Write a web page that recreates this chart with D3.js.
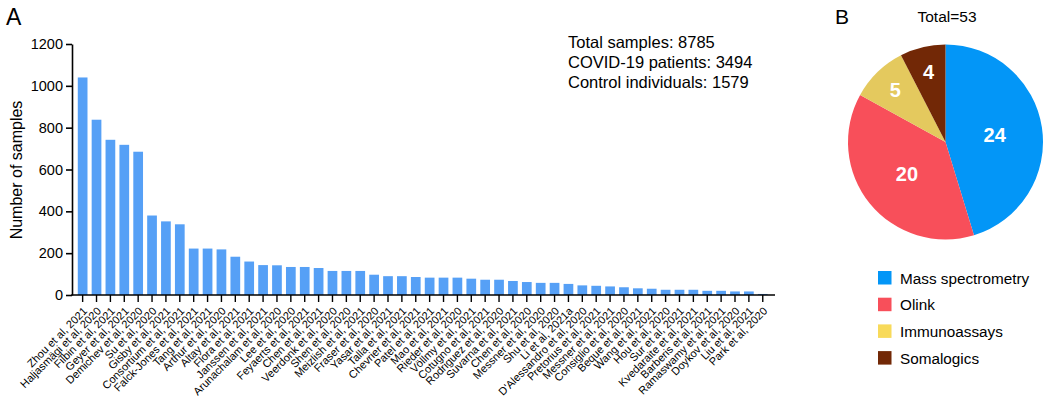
<!DOCTYPE html>
<html><head><meta charset="utf-8">
<script src="https://cdn.jsdelivr.net/npm/d3@7"></script>
<style>
html,body{margin:0;padding:0;background:#fff;}
text{font-family:"Liberation Sans",Arial,Helvetica,sans-serif;fill:#000;}
</style></head>
<body>
<svg id="chart" width="1050" height="404"></svg>
<script>
const studies = ["Zhou et al, 2021","Haljasmägi et al, 2020","Filbin et al, 2021","Geyer et al, 2021","Demichev et al, 2020","Su et al, 2020","Gisby et al, 2021","Consortium et al, 2021","Falck-Jones et al, 2021","Tang et al, 2021","Arthur et al, 2020","Altay et al, 2021","Flora et al, 2021","Janssen et al, 2021","Arunachalam et al, 2020","Lee et al, 2020","Feyaerts et al, 2021","Chen et al, 2021","Veerdonk et al, 2020","Shen et al, 2020","Meizlish et al, 2021","Fraser et al, 2020","Yasar et al, 2021","Talla et al, 2021","Chevrier et al, 2021","Patel et al, 2021","Mao et al, 2021","Rieder et al, 2020","Völlmy et al, 2021","Cotugno et al, 2021","Rodriguez et al, 2020","Suvarna et al, 2021","Chen et al, 2020","Messner et al, 2020","Shu et al, 2020","Li et al, 2021a","D'Alessandro et al, 2020","Pretorius et al, 2021","Messner et al, 2021","Consiglio et al, 2020","Beque et al, 2021","Wang et al, 2021","Hou et al, 2020","Sur et al, 2021","Kvedaraite et al, 2021","Barberis et al, 2021","Ramaswamy et al, 2021","Doykov et al, 2020","Liu et al, 2021","Park et al, 2020"];
const samples = [1040,838,742,718,685,380,352,338,222,222,218,183,160,143,142,134,134,129,115,115,115,97,90,90,86,83,83,83,78,73,73,67,62,58,58,53,46,44,41,37,32,30,25,25,25,20,20,17,17,5];
const yTicks = [0,200,400,600,800,1000,1200];
const statsLines = ["Total samples: 8785","COVID-19 patients: 3494","Control individuals: 1579"];

const platforms = ["Mass spectrometry","Olink","Immunoassays","Somalogics"];
const platformCounts = [24,20,5,4];
const pieColors = ["#0396F7","#F84F5A","#E4C95E","#722806"];
const legendColors = ["#0396F7","#F84F5A","#F8DA5A","#722806"];
const pieTitle = "Total=53";

const svg = d3.select("#chart");

// ---- Panel A ----
const x = d3.scaleBand().domain(studies).range([75.7, 769.7]).paddingInner(0.3).paddingOuter(0.15);
const y = d3.scaleLinear().domain([0,1200]).range([295,44]);

svg.append("text").attr("x",6).attr("y",25).style("font-size","23px").text("A");

svg.append("g").selectAll("rect").data(samples).join("rect")
  .attr("x",(d,i)=>x(studies[i]))
  .attr("width",x.bandwidth())
  .attr("y",d=>y(d))
  .attr("height",d=>y(0)-y(d))
  .attr("fill","#56A0F6");

const yAxis = svg.append("g").attr("transform","translate(72,0)")
  .call(d3.axisLeft(y).tickValues(yTicks).tickFormat(d3.format("d")).tickSize(6).tickPadding(3).tickSizeOuter(0));
yAxis.select(".domain").attr("stroke","#000").attr("stroke-width",1.6);
yAxis.selectAll(".tick line").attr("stroke","#000").attr("stroke-width",1.6);
yAxis.selectAll(".tick text").style("font-size","14.5px").style("font-family","Liberation Sans, Arial, sans-serif");

const xAxis = svg.append("g").attr("transform","translate(0,295)")
  .call(d3.axisBottom(x).tickSize(7).tickFormat(""));
xAxis.select(".domain").remove();
xAxis.selectAll(".tick line").attr("stroke","#000").attr("stroke-width",1.4);
svg.append("line").attr("x1",71.2).attr("x2",775).attr("y1",295).attr("y2",295)
  .attr("stroke","#000").attr("stroke-width",1.6);

svg.append("g").selectAll("text").data(studies).join("text")
  .attr("transform",d=>`translate(${x(d)+x.bandwidth()/2+2.5},${309}) rotate(-45)`)
  .attr("text-anchor","end")
  .attr("dy","0.35em")
  .style("font-size","11px")
  .text(d=>d);

svg.append("text")
  .attr("transform","translate(22,170) rotate(-90)")
  .attr("text-anchor","middle")
  .style("font-size","16px")
  .text("Number of samples");

svg.append("g").selectAll("text").data(statsLines).join("text")
  .attr("x",568).attr("y",(d,i)=>48+i*19.8)
  .style("font-size","16.5px")
  .text(d=>d);

// ---- Panel B ----
svg.append("text").attr("x",835).attr("y",24).style("font-size","21px").text("B");
svg.append("text").attr("x",947).attr("y",22).attr("text-anchor","middle").style("font-size","15.5px").text(pieTitle);

const R = 97.5;
const pie = d3.pie().sort(null).value(d=>d);
const arcs = pie(platformCounts);
const arc = d3.arc().innerRadius(0).outerRadius(R);
const gp = svg.append("g").attr("transform","translate(945.5,142)");
gp.selectAll("path").data(arcs).join("path")
  .attr("d",arc).attr("fill",(d,i)=>pieColors[i]);
gp.selectAll("text").data(arcs).join("text")
  .attr("transform",d=>{
    const lr = d.value < 10 ? R*0.74 : R*0.51;
    const c = d3.arc().innerRadius(lr).outerRadius(lr).centroid(d);
    return `translate(${c[0]},${c[1]})`;
  })
  .attr("text-anchor","middle").attr("dy","0.36em")
  .style("font-size","20px").style("font-weight","bold").style("fill","#fff")
  .text(d=>d.value);

const lg = svg.append("g").selectAll("g").data(platforms).join("g")
  .attr("transform",(d,i)=>`translate(878,${271+i*26.7})`);
lg.append("rect").attr("width",13.5).attr("height",13.5).attr("fill",(d,i)=>legendColors[i]);
lg.append("text").attr("x",22).attr("y",12.5).style("font-size","15.3px").text(d=>d);
</script>
</body></html>
